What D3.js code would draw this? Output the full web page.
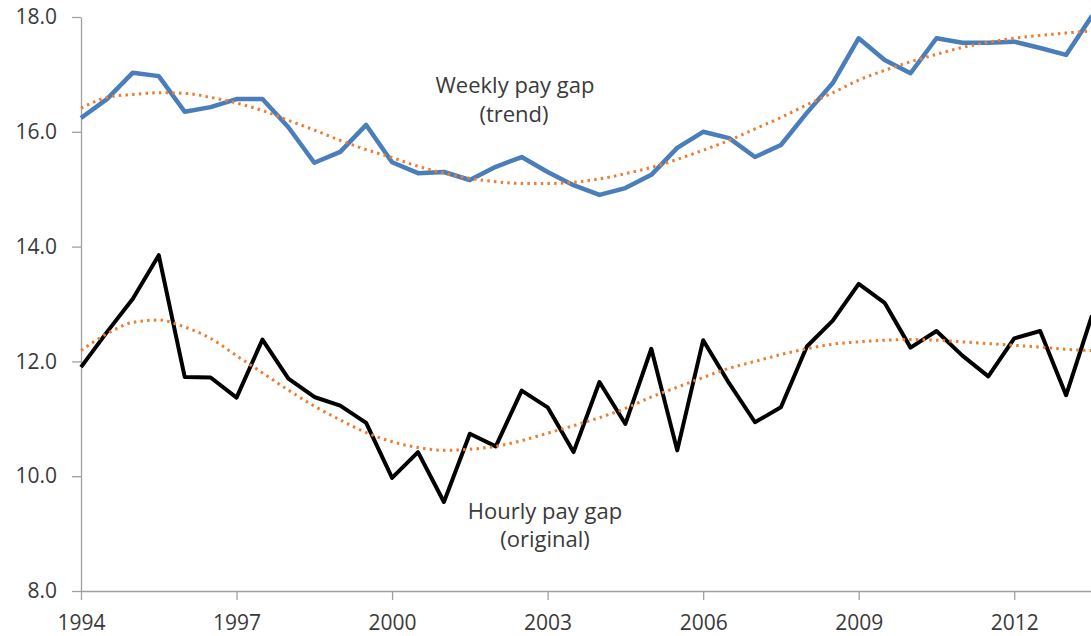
<!DOCTYPE html>
<html>
<head>
<meta charset="utf-8">
<script src="https://cdn.jsdelivr.net/npm/d3@7"></script>
<style>
  body { margin: 0; background: #fff; }
  svg text { font-family: "Open Sans", "Noto Sans", sans-serif; fill: #3a3a3a; }
  .axis path, .axis line { stroke: #a0a0a0; stroke-width: 1.3; }
  .axis text { font-size: 21px; }
  .label { font-size: 22px; text-anchor: middle; }
</style>
</head>
<body>
<svg id="chart" width="1091" height="636"></svg>
<script>
// half-year periods, 1994 to 2013.5
var periods = [1994, 1994.5, 1995, 1995.5, 1996, 1996.5, 1997, 1997.5, 1998, 1998.5,
  1999, 1999.5, 2000, 2000.5, 2001, 2001.5, 2002, 2002.5, 2003, 2003.5,
  2004, 2004.5, 2005, 2005.5, 2006, 2006.5, 2007, 2007.5, 2008, 2008.5,
  2009, 2009.5, 2010, 2010.5, 2011, 2011.5, 2012, 2012.5, 2013, 2013.5];

var weekly = [16.24, 16.57, 17.03, 16.97, 16.35, 16.43, 16.57, 16.57, 16.08, 15.46,
  15.65, 16.12, 15.47, 15.28, 15.30, 15.16, 15.39, 15.56, 15.30, 15.07,
  14.90, 15.02, 15.25, 15.72, 16.00, 15.89, 15.56, 15.77, 16.33, 16.85,
  17.63, 17.25, 17.02, 17.63, 17.55, 17.55, 17.57, 17.46, 17.34, 18.02];

var hourly = [11.90, 12.51, 13.09, 13.85, 11.73, 11.72, 11.37, 12.38, 11.70, 11.38,
  11.23, 10.93, 9.97, 10.42, 9.55, 10.74, 10.52, 11.49, 11.20, 10.42,
  11.64, 10.91, 12.22, 10.45, 12.37, 11.62, 10.94, 11.20, 12.26, 12.71,
  13.35, 13.02, 12.24, 12.53, 12.10, 11.74, 12.40, 12.53, 11.41, 12.80];

var weeklyTrend = [16.41, 16.60, 16.65, 16.68, 16.67, 16.60, 16.50, 16.37, 16.20, 16.03,
  15.85, 15.69, 15.55, 15.40, 15.28, 15.19, 15.13, 15.10, 15.10, 15.12,
  15.18, 15.27, 15.38, 15.52, 15.68, 15.85, 16.05, 16.25, 16.47, 16.68,
  16.90, 17.07, 17.22, 17.35, 17.47, 17.56, 17.63, 17.68, 17.72, 17.76];

var hourlyTrend = [12.19, 12.48, 12.68, 12.72, 12.60, 12.40, 12.10, 11.80, 11.50, 11.22,
  10.98, 10.76, 10.60, 10.50, 10.45, 10.47, 10.52, 10.62, 10.75, 10.88,
  11.02, 11.18, 11.38, 11.55, 11.72, 11.88, 12.00, 12.12, 12.22, 12.30,
  12.34, 12.37, 12.38, 12.37, 12.34, 12.31, 12.28, 12.25, 12.21, 12.19];

var xTicks = [1994, 1997, 2000, 2003, 2006, 2009, 2012];
var yTicks = [8, 10, 12, 14, 16, 18];

var svg = d3.select("#chart"),
    margin = {top: 17, right: 0, bottom: 45, left: 81},
    width = 1011,
    height = 574;

var g = svg.append("g")
  .attr("transform", "translate(" + margin.left + "," + margin.top + ")");

var x = d3.scaleLinear().domain([1994, 2013.5]).range([0, width]);
var y = d3.scaleLinear().domain([8, 18]).range([height, 0]);

g.append("g")
  .attr("class", "axis y")
  .call(d3.axisLeft(y).tickValues(yTicks).tickFormat(d3.format(".1f"))
    .tickSize(9).tickSizeOuter(0).tickPadding(15));

g.append("g")
  .attr("class", "axis x")
  .attr("transform", "translate(0," + height + ")")
  .call(d3.axisBottom(x).tickValues(xTicks).tickFormat(d3.format("d"))
    .tickSize(9).tickSizeOuter(0).tickPadding(15));

function lineOf(vals, curve) {
  return d3.line()
    .x(function(d, i) { return x(periods[i]); })
    .y(function(d) { return y(d); })
    .curve(curve)(vals);
}

g.append("path")
  .attr("d", lineOf(weekly, d3.curveLinear))
  .attr("fill", "none").attr("stroke", "#4a7ebb")
  .attr("stroke-width", 4.5).attr("stroke-linejoin", "round");

g.append("path")
  .attr("d", lineOf(hourly, d3.curveLinear))
  .attr("fill", "none").attr("stroke", "#000")
  .attr("stroke-width", 4).attr("stroke-linejoin", "round");

[weeklyTrend, hourlyTrend].forEach(function(t) {
  g.append("path")
    .attr("d", lineOf(t, d3.curveMonotoneX))
    .attr("fill", "none").attr("stroke", "#ed7d31")
    .attr("stroke-width", 3).attr("stroke-dasharray", "2.5,4.2");
});

// annotations
svg.append("text").attr("class", "label").attr("x", 515).attr("y", 93).text("Weekly pay gap");
svg.append("text").attr("class", "label").attr("x", 514).attr("y", 122).text("(trend)");
svg.append("text").attr("class", "label").attr("x", 545).attr("y", 519).text("Hourly pay gap");
svg.append("text").attr("class", "label").attr("x", 545).attr("y", 547).text("(original)");
</script>
</body>
</html>
